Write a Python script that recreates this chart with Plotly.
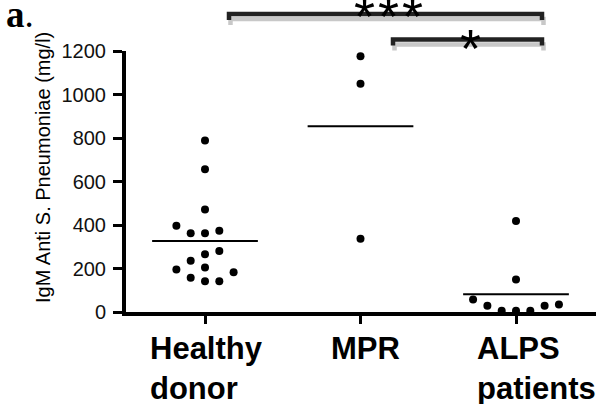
import numpy as np
import plotly.graph_objects as go

# ---- data ----
groups = ["Healthy<br>donor", "MPR", "ALPS<br>patients"]
healthy_values = [789, 656, 471, 396, 362, 362, 373, 281, 265, 236, 205, 195, 183, 158, 141, 141]
healthy_slots = [0, 0, 0, -2, -1, 0, 1, 1, 0, -1, 0, -2, 2, -1, 0, 1]
mpr_values = [1176, 1050, 337]
mpr_slots = [0, 0, 0]
alps_values = [418, 149, 58, 29, 6, 6, 6, 29, 35]
alps_slots = [0, 0, -3, -2, -1, 0, 1, 2, 3]
y_ticks = [0, 200, 400, 600, 800, 1000, 1200]

# ---- layout geometry (pixels) ----
W, H = 596, 404
L, R, T, B = 126, 0, 51, 92
PW, PH = W - L - R, H - T - B
SLOT = 0.092       # horizontal spacing between stacked dots (category units)
HALF = 0.34        # half width of mean bar


def px_x(px):
    return (px - L) / PW


def px_y(py):
    return (H - B - py) / PH


fig = go.Figure()

all_vals = [healthy_values, mpr_values, alps_values]
all_slots = [healthy_slots, mpr_slots, alps_slots]
for i, (vals, slots) in enumerate(zip(all_vals, all_slots)):
    xs = [i + s * SLOT for s in slots]
    fig.add_trace(go.Scatter(
        x=xs, y=vals, mode="markers",
        marker=dict(size=8, color="black", line=dict(width=0)),
        showlegend=False, hoverinfo="y"))
    m = float(np.mean(vals))
    fig.add_trace(go.Scatter(
        x=[i - HALF, i + HALF], y=[m, m], mode="lines",
        line=dict(color="black", width=2), showlegend=False, hoverinfo="skip"))

fig.update_xaxes(
    range=[-(205 - L) / 155.5, 2 + (W - 516) / 155.5],
    tickvals=[0, 1, 2], ticktext=["", "", ""],
    showline=True, linecolor="black", linewidth=4,
    ticks="outside", ticklen=8, tickwidth=3, tickcolor="black",
    showgrid=False, zeroline=False, fixedrange=True)
fig.update_yaxes(
    range=[0, 1200], tickvals=y_ticks,
    showline=True, linecolor="black", linewidth=4,
    ticks="outside", ticklen=9, tickwidth=3, tickcolor="black",
    ticklabelstandoff=3,
    tickfont=dict(family="Liberation Sans, Arial", size=20, color="#111111"),
    showgrid=False, zeroline=False, fixedrange=True)

annotations = []
# category labels (left aligned blocks)
for text, left in zip(groups, [148, 329, 475]):
    annotations.append(dict(
        text="<b>%s</b>" % text, xref="paper", yref="paper",
        x=px_x(left), y=px_y(329), xanchor="left", yanchor="top",
        align="left", showarrow=False,
        font=dict(family="Liberation Sans, Arial", size=31, color="black")))
# y-axis title
annotations.append(dict(
    text="IgM Anti S. Pneumoniae (mg/l)", xref="paper", yref="paper",
    x=px_x(43), y=px_y(168), xanchor="center", yanchor="middle",
    textangle=-90, showarrow=False,
    font=dict(family="Liberation Sans, Arial", size=20, color="black")))
# panel letter
annotations.append(dict(
    text="<b>a</b>.", xref="paper", yref="paper",
    x=px_x(4), y=px_y(-8), xanchor="left", yanchor="top",
    showarrow=False,
    font=dict(family="Liberation Serif, Times New Roman", size=37, color="black")))

# significance brackets: (left px, right px, line py, star centers, star py)
brackets = [
    (229, 542, 14, [364, 388, 412], 4),
    (393, 542, 39.5, [470], 36),
]
shapes = []
for x0, x1, yl, stars, sy in brackets:
    for dx, dy, col in [(1.5, 5, "#c8c8c8"), (0, 0, "#222222")]:
        a, b = px_x(x0 + dx), px_x(x1 + dx)
        ylp, ytp = px_y(yl + dy), px_y(yl + dy + 6)
        shapes.append(dict(
            type="path", xref="paper", yref="paper",
            path="M %f,%f L %f,%f L %f,%f L %f,%f" % (a, ytp, a, ylp, b, ylp, b, ytp),
            line=dict(color=col, width=4.5), layer="above"))
    for sx in stars:
        annotations.append(dict(
            text="*", xref="paper", yref="paper",
            x=px_x(sx), y=px_y(sy + 12), xanchor="center", yanchor="middle",
            showarrow=False,
            font=dict(family="Liberation Sans, Arial", size=54, color="black")))

fig.update_layout(
    width=W, height=H,
    margin=dict(l=L, r=R, t=T, b=B, pad=0),
    paper_bgcolor="white", plot_bgcolor="white",
    annotations=annotations, shapes=shapes,
    showlegend=False)

fig.write_html("out.html", config={"displayModeBar": False})
